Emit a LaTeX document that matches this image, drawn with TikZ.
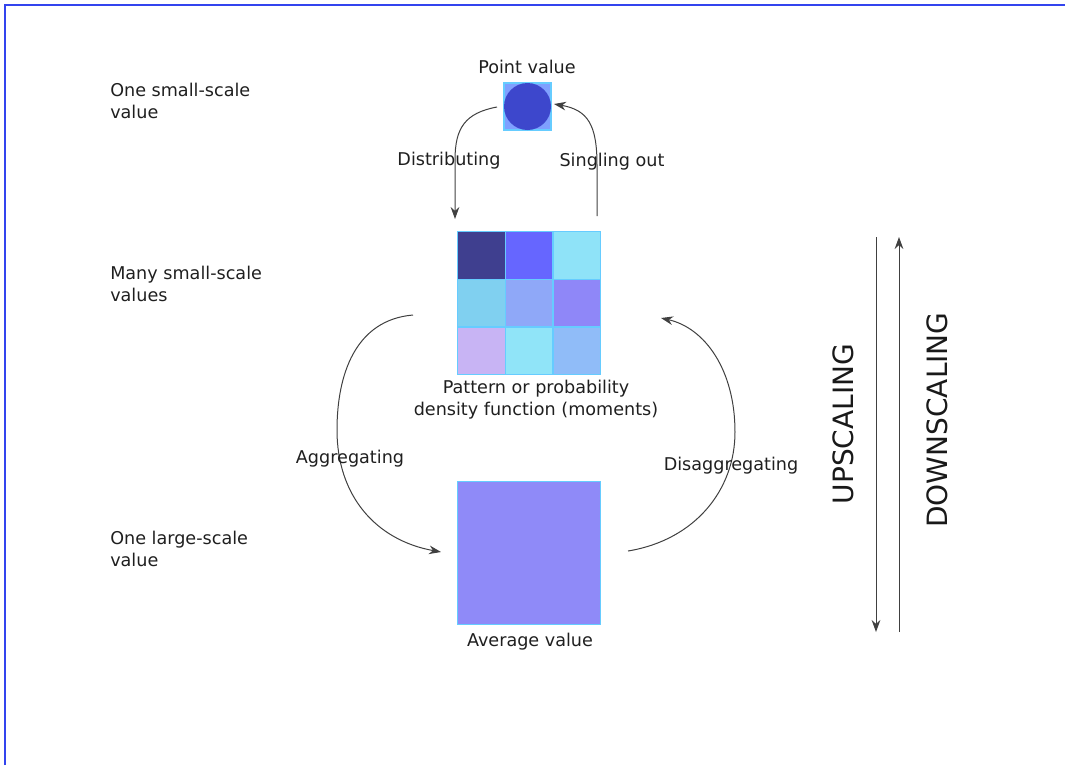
\documentclass[tikz,border=0pt]{standalone}
\usepackage{fontspec}
\setmainfont{DejaVu Sans}
\usetikzlibrary{arrows.meta}
\definecolor{frameblue}{HTML}{3344EE}
\definecolor{arrowgray}{HTML}{404040}
\definecolor{cellborder}{HTML}{66CCFF}
\definecolor{ptbg}{HTML}{7FA0FF}
\definecolor{ptdot}{HTML}{3D47CC}
\definecolor{cA}{HTML}{3F3F8F}
\definecolor{cB}{HTML}{6666FF}
\definecolor{cC}{HTML}{8FE3F8}
\definecolor{cD}{HTML}{80D0F0}
\definecolor{cE}{HTML}{8FA8F8}
\definecolor{cF}{HTML}{8F87F8}
\definecolor{cG}{HTML}{C8B4F4}
\definecolor{cH}{HTML}{90E4F8}
\definecolor{cI}{HTML}{90BCF8}
\definecolor{avg}{HTML}{8F8AF8}
\tikzset{
  lbl/.style={font=\fontsize{13.2pt}{16.5pt}\selectfont, text=black!88, inner sep=0pt},
  sidelbl/.style={lbl, align=left, anchor=north west},
  bigl/.style={font=\fontsize{21pt}{25pt}\selectfont, text=black!90, inner sep=0pt, rotate=90},
  conn/.style={draw=arrowgray, line width=0.75pt, -{Stealth[length=9pt,width=6.5pt]}},
  cell/.style={draw=cellborder, line width=0.9pt, minimum size=35.7pt, inner sep=0pt, anchor=north west},
}
\begin{document}
\begin{tikzpicture}[x=0.75pt,y=-0.75pt]
\useasboundingbox (0,0) rectangle (1065,765);
% frame
\draw[frameblue, line width=1.2pt] (5,765) -- (5,5) -- (1065,5);

% left labels
\node[sidelbl] (l1) at (110,83) {One small-scale\\value};
\node[sidelbl] (l2) at (110,266) {Many small-scale\\values};
\node[sidelbl] (l3) at (110,531) {One large-scale\\value};

% point value
\node[lbl] (ptl) at (527,67) {Point value};
\node[draw=cellborder, fill=ptbg, line width=0.9pt, minimum size=35.2pt, inner sep=0pt] (pt) at (527.5,106.5) {};
\fill[ptdot] (pt.center) circle (23.5);

% grid
\node[cell, fill=cA] (g11) at (457,231) {};
\node[cell, fill=cB] (g12) at (504.7,231) {};
\node[cell, fill=cC] (g13) at (552.3,231) {};
\node[cell, fill=cD] (g21) at (457,278.7) {};
\node[cell, fill=cE] (g22) at (504.7,278.7) {};
\node[cell, fill=cF] (g23) at (552.3,278.7) {};
\node[cell, fill=cG] (g31) at (457,326.3) {};
\node[cell, fill=cH] (g32) at (504.7,326.3) {};
\node[cell, fill=cI] (g33) at (552.3,326.3) {};
\node[lbl, align=center] (patl) at (536,400) {Pattern or probability\\density function (moments)};

% average
\node[draw=cellborder, fill=avg, line width=0.9pt, minimum size=107pt, inner sep=0pt, anchor=north west] (avgsq) at (457,481) {};
\node[lbl] (avgl) at (530,642) {Average value};

% connector end points
\coordinate (dS) at (497,107);
\coordinate (dE) at (455,219);
\coordinate (sS) at (597,216);
\coordinate (sE) at (554,104);
\coordinate (aS) at (413,315);
\coordinate (aE) at (441,552);
\coordinate (rS) at (628,551);
\coordinate (rE) at (661,318);

\draw[conn] (dS) .. controls (465,113) and (455,128) .. (455,160) -- (dE);
\draw[conn] (sS) -- (597,165) .. controls (597,125) and (588,110) .. (sE);
\draw[conn] (aS) .. controls (355,320) and (337,375) .. (337,430) .. controls (337,495) and (375,540) .. (aE);
\draw[conn] (rS) .. controls (695,540) and (735,490) .. (735,432) .. controls (735,370) and (705,328) .. (rE);

\node[lbl] (distl) at (449,161) {Distributing};
\node[lbl] (singl) at (612,162) {Singling out};
\node[lbl] (aggl) at (350,459) {Aggregating};
\node[lbl] (disl) at (731,466) {Disaggregating};

% scaling arrows
\coordinate (up1) at (876,237);
\coordinate (up2) at (876,632);
\coordinate (dn1) at (899,632);
\coordinate (dn2) at (899,237);
\draw[conn] (up1) -- (up2);
\draw[conn] (dn1) -- (dn2);
\node[bigl] (upl) at (843,424) {UPSCALING};
\node[bigl] (dnl) at (937,420) {DOWNSCALING};
\end{tikzpicture}
\end{document}
